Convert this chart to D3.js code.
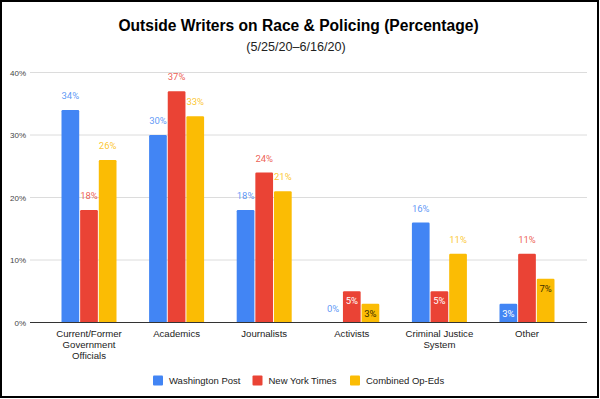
<!DOCTYPE html>
<html><head><meta charset="utf-8">
<script src="https://cdn.jsdelivr.net/npm/d3@7"></script>
<style>
html,body{margin:0;padding:0;background:#fff;}
svg{display:block;font-family:Arial,"Liberation Sans",sans-serif;}
</style></head>
<body>
<svg id="c" width="600" height="399"></svg>
<script>
const categories = ["Current/Former\nGovernment\nOfficials","Academics","Journalists","Activists","Criminal Justice\nSystem","Other"];
const seriesNames = ["Washington Post","New York Times","Combined Op-Eds"];
const washingtonPost = [34,30,18,0,16,3];
const newYorkTimes = [18,37,24,5,5,11];
const combinedOpEds = [26,33,21,3,11,7];
const yTicks = [0,10,20,30,40];
const colors = ["#4285F4","#EA4335","#FBBC04"];
const insideText = ["#ffffff","#ffffff","#3d3000"];
const series = [washingtonPost,newYorkTimes,combinedOpEds];

const svg = d3.select("#c");
svg.append("rect").attr("x",1).attr("y",1).attr("width",597).attr("height",396)
  .attr("fill","#fff").attr("stroke","#000").attr("stroke-width",2);

svg.append("text").attr("x",298.5).attr("y",31).attr("text-anchor","middle")
  .attr("font-size",15.6).attr("font-weight","bold").attr("fill","#000")
  .text("Outside Writers on Race & Policing (Percentage)");
svg.append("text").attr("x",296).attr("y",51).attr("text-anchor","middle")
  .attr("font-size",12.6).attr("fill","#222").text("(5/25/20–6/16/20)");

const y = d3.scaleLinear().domain([0,40]).range([322.5,72.5]);
const gridL = 30, gridR = 587;
const xc = d3.scalePoint().domain(d3.range(categories.length)).range([89,527]);
const groupW = 55;
const x1 = d3.scaleBand().domain(d3.range(3)).range([-groupW/2, groupW/2]).paddingInner(0.05);

// gridlines
const yAxis = d3.axisLeft(y).tickValues(yTicks).tickSize(0).tickFormat(d=>d+"%");
svg.selectAll("line.grid").data(yTicks.filter(t=>t>0)).enter().append("line")
  .attr("x1",gridL).attr("x2",gridR).attr("y1",d=>y(d)).attr("y2",d=>y(d))
  .attr("stroke","#dcdcdc").attr("stroke-width",1);
const ga = svg.append("g").attr("transform","translate(26,0)").call(yAxis);
ga.select(".domain").remove();
ga.selectAll("text").attr("font-size",8).attr("fill","#444").attr("x",0).attr("dy","0.32em")
  .attr("font-family",'Arial,"Liberation Sans",sans-serif');

// bars
const g = svg.append("g");
series.forEach((vals,si)=>{
  vals.forEach((v,ci)=>{
    const bx = xc(ci)+x1(si), bw = x1.bandwidth();
    if(v>0){
      g.append("rect").attr("x",bx).attr("y",y(v)).attr("width",bw).attr("height",y(0)-y(v))
        .attr("fill",colors[si]).attr("rx",1.2);
    }
    const inside = v>0 && v<10;
    g.append("text").attr("x",bx+bw/2)
      .attr("y", inside ? y(v)+13 : y(v)-11)
      .attr("text-anchor","middle").attr("font-size",9.5)
      .attr("font-family",'Roboto,Arial,sans-serif')
      .attr("fill", inside ? insideText[si] : colors[si])
      .attr("fill-opacity", inside ? 1 : 0.85)
      .text(v+"%");
  });
});

// baseline
svg.append("line").attr("x1",gridL).attr("x2",gridR).attr("y1",y(0)).attr("y2",y(0))
  .attr("stroke","#333").attr("stroke-width",1);

// category labels
categories.forEach((c,ci)=>{
  const t = svg.append("text").attr("text-anchor","middle").attr("font-size",9.6).attr("fill","#222");
  c.split("\n").forEach((line,li)=>{
    t.append("tspan").attr("x",xc(ci)).attr("y",336.8+li*11).text(line);
  });
});

// legend
const legX = [153,252.5,350];
seriesNames.forEach((n,i)=>{
  svg.append("rect").attr("x",legX[i]).attr("y",375.5).attr("width",10).attr("height",10)
    .attr("fill",colors[i]).attr("rx",1);
  svg.append("text").attr("x",legX[i]+16).attr("y",384).attr("font-size",9.5).attr("fill","#222").text(n);
});
</script>
</body></html>
